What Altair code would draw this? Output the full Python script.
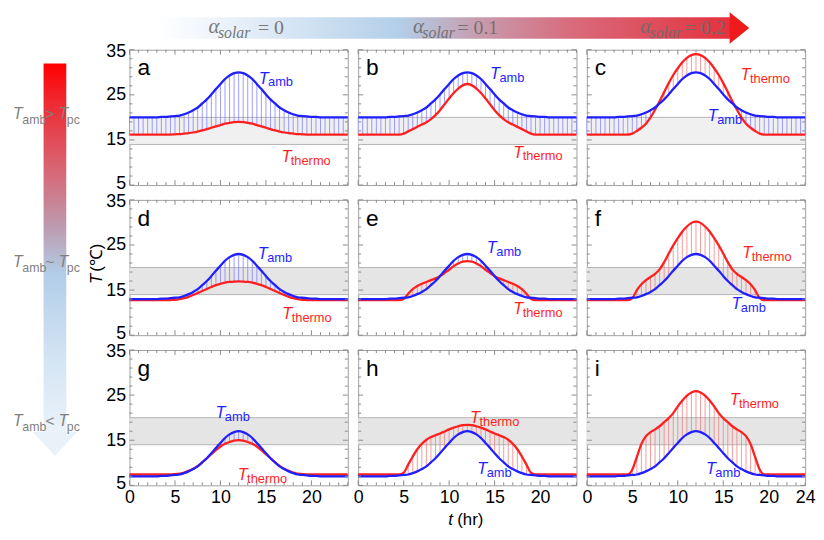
import altair as alt
import pandas as pd

# ---------------- data ----------------
t_hr = [0, 0.5, 1, 1.5, 2, 2.5, 3, 3.5, 4, 4.5, 5, 5.5, 6, 6.5, 7, 7.5, 8, 8.5, 9, 9.5,
        10, 10.5, 11, 11.5, 12, 12.5, 13, 13.5, 14, 14.5, 15, 15.5, 16, 16.5, 17, 17.5,
        18, 18.5, 19, 19.5, 20, 20.5, 21, 21.5, 22, 22.5, 23, 23.5, 24]

amb_row1 = [20.0, 20.0, 20.0, 20.0, 20.0, 20.0, 20.0, 20.1, 20.1, 20.2, 20.3, 20.4, 20.7, 21.1, 21.6, 22.2,
            23.1, 24.0, 25.1, 26.3, 27.4, 28.5, 29.3, 29.8, 30.0,
            29.8, 29.3, 28.5, 27.4, 26.3, 25.1, 24.0, 23.1, 22.2, 21.6, 21.1, 20.7, 20.4, 20.3, 20.2,
            20.1, 20.1, 20.0, 20.0, 20.0, 20.0, 20.0, 20.0, 20.0]
amb_row2 = [13.0, 13.0, 13.0, 13.0, 13.0, 13.0, 13.0, 13.1, 13.1, 13.2, 13.3, 13.4, 13.7, 14.1, 14.6, 15.2,
            16.1, 17.0, 18.1, 19.3, 20.4, 21.5, 22.3, 22.8, 23.0,
            22.8, 22.3, 21.5, 20.4, 19.3, 18.1, 17.0, 16.1, 15.2, 14.6, 14.1, 13.7, 13.4, 13.3, 13.2,
            13.1, 13.1, 13.0, 13.0, 13.0, 13.0, 13.0, 13.0, 13.0]
amb_row3 = [7.0, 7.0, 7.0, 7.0, 7.0, 7.0, 7.0, 7.1, 7.1, 7.2, 7.3, 7.4, 7.7, 8.1, 8.6, 9.2,
            10.1, 11.0, 12.1, 13.3, 14.4, 15.5, 16.3, 16.8, 17.0,
            16.8, 16.3, 15.5, 14.4, 13.3, 12.1, 11.0, 10.1, 9.2, 8.6, 8.1, 7.7, 7.4, 7.3, 7.2,
            7.1, 7.1, 7.0, 7.0, 7.0, 7.0, 7.0, 7.0, 7.0]

thermo_a = ([16.2] * 10 + [16.25, 16.3, 16.4, 16.5, 16.65, 16.85, 17.1, 17.4, 17.7, 18.0, 18.3, 18.6, 18.8, 18.95, 19.0,
             18.95, 18.8, 18.6, 18.3, 18.0, 17.7, 17.4, 17.1, 16.85, 16.65, 16.5, 16.4, 16.3, 16.25] + [16.2] * 10)
thermo_b = ([16.2] * 10 + [16.4, 16.9, 17.4, 17.9, 18.4, 18.9, 19.6, 20.5, 21.6, 22.9, 24.2, 25.4, 26.4, 27.1, 27.4,
             27.1, 26.4, 25.4, 24.2, 22.9, 21.6, 20.5, 19.6, 18.9, 18.4, 17.9, 17.4, 16.9, 16.4] + [16.2] * 10)
thermo_c = ([16.2] * 10 + [16.4, 17.0, 17.7, 18.6, 20.0, 21.7, 23.6, 25.6, 27.6, 29.4, 30.9, 32.2, 33.2, 33.8, 34.0,
             33.8, 33.2, 32.2, 30.9, 29.4, 27.6, 25.6, 23.6, 21.7, 20.0, 18.6, 17.7, 17.0, 16.4] + [16.2] * 10)
thermo_d = ([12.75] * 9 + [12.8, 12.85, 13.0, 13.2, 13.5, 13.9, 14.35, 14.8, 15.25, 15.7, 16.1, 16.4, 16.65, 16.8, 16.9, 16.95,
             16.9, 16.8, 16.65, 16.4, 16.1, 15.7, 15.25, 14.8, 14.35, 13.9, 13.5, 13.2, 13.0, 12.85, 12.8] + [12.75] * 9)
thermo_e = ([12.75] * 10 + [13.0, 14.2, 15.2, 15.9, 16.4, 16.8, 17.2, 17.6, 18.1, 18.8, 19.5, 20.3, 20.9, 21.3, 21.4,
             21.3, 20.9, 20.3, 19.5, 18.8, 18.1, 17.6, 17.2, 16.8, 16.4, 15.9, 15.2, 14.2, 13.0] + [12.75] * 10)
thermo_f = ([12.75] * 10 + [13.2, 15.0, 16.3, 17.2, 17.9, 18.6, 19.6, 21.2, 23.1, 24.9, 26.5, 28.0, 29.1, 29.9, 30.2,
             29.9, 29.1, 28.0, 26.5, 24.9, 23.1, 21.2, 19.6, 18.6, 17.9, 17.2, 16.3, 15.0, 13.2] + [12.75] * 10)
thermo_g = ([7.4] * 10 + [7.5, 7.6, 7.85, 8.2, 8.7, 9.3, 10.1, 11.0, 11.9, 12.8, 13.6, 14.2, 14.6, 14.9, 15.0,
             14.9, 14.6, 14.2, 13.6, 12.8, 11.9, 11.0, 10.1, 9.3, 8.7, 8.2, 7.85, 7.6, 7.5] + [7.4] * 10)
thermo_h = ([7.4] * 10 + [7.8, 9.6, 11.4, 13.0, 14.2, 15.1, 15.7, 16.1, 16.5, 16.95, 17.4, 17.8, 18.1, 18.35, 18.4,
             18.35, 18.1, 17.8, 17.4, 16.95, 16.5, 16.1, 15.7, 15.1, 14.2, 13.0, 11.4, 9.6, 7.8] + [7.4] * 10)
thermo_i = ([7.4] * 10 + [8.5, 11.3, 14.2, 15.9, 16.8, 17.4, 18.1, 19.0, 19.9, 21.0, 22.5, 23.8, 24.9, 25.6, 25.9,
             25.6, 24.9, 23.8, 22.5, 21.0, 19.9, 19.0, 18.1, 17.4, 16.8, 15.9, 14.2, 11.3, 8.5] + [7.4] * 10)

panel_letters = ["a", "b", "c", "d", "e", "f", "g", "h", "i"]
panel_amb = [amb_row1, amb_row1, amb_row1, amb_row2, amb_row2, amb_row2, amb_row3, amb_row3, amb_row3]
panel_thermo = [thermo_a, thermo_b, thermo_c, thermo_d, thermo_e, thermo_f, thermo_g, thermo_h, thermo_i]

# curve labels (t, T) of the "T" glyph
amb_lab_t = [14.2, 14.5, 13.3, 14.1, 14.15, 15.9, 9.45, 13.1, 13.1]
amb_lab_T = [28.6, 29.7, 20.3, 22.9, 24.3, 11.9, 21.1, 8.5, 8.5]
thermo_lab_t = [16.7, 17.05, 16.9, 16.8, 17.05, 17.1, 11.9, 12.3, 15.7]
thermo_lab_T = [11.1, 12.2, 29.4, 9.75, 10.85, 23.2, 7.3, 20.0, 23.8]

band_T = [14, 20]
band_fill = ["#f0f0f0", "#e5e5e5", "#e5e5e5"]

y_labels = [5, 15, 25, 35]
y_major = [5, 15, 25, 35]
y_minor = [7, 9, 11, 13, 17, 19, 21, 23, 27, 29, 31, 33]
x_labels = [0, 5, 10, 15, 20]
x_labels_last = [0, 5, 10, 15, 20, 24]
x_major = [0, 5, 10, 15, 20]
x_minor = [1, 2, 3, 4, 6, 7, 8, 9, 11, 12, 13, 14, 16, 17, 18, 19, 21, 22, 23, 24]

solar_values = ["= 0", "= 0.1", "= 0.2"]
regime_symbols = [">", "~", "<"]

# ---------------- style ----------------
W, H = 221, 137
BLUE = "#1f1fff"
RED = "#ff1f1f"
TICK = "#8a8a8a"
GREY_TXT = "#7f7f7f"
ALPHA_TXT = "#6c6c6c"
SANS = "Liberation Sans"
SERIF = "Liberation Serif"
one = pd.DataFrame({"k": [0]})


def vtext(txt, x, y, size, color="black", font=SANS, style="normal", align="left",
          baseline="alphabetic", angle=0, opacity=1.0):
    return alt.Chart(one).mark_text(
        text=txt, font=font, fontStyle=style, fontSize=size, color=color, align=align,
        baseline=baseline, angle=angle, opacity=opacity
    ).encode(x=alt.value(x), y=alt.value(y))


def decorations():
    lay = []
    # top horizontal arrow (alpha_solar)
    hgrad = {"gradient": "linear", "x1": 0, "y1": 0, "x2": 1, "y2": 0,
             "stops": [{"offset": 0, "color": "#ffffff"},
                       {"offset": 0.1, "color": "#eef4fb"},
                       {"offset": 0.42, "color": "#b3cfe9"},
                       {"offset": 0.56, "color": "#c79cae"},
                       {"offset": 0.73, "color": "#d9697a"},
                       {"offset": 1, "color": "#e4323e"}]}
    lay.append(alt.Chart(one).mark_rect(fill=hgrad, strokeWidth=0).encode(
        x=alt.value(30), x2=alt.value(608), y=alt.value(-33), y2=alt.value(-11)))
    lay.append(alt.Chart(one).mark_point(
        shape="M -0.62 -1 L 0.62 0 L -0.62 1 Z", size=1024, filled=True, fill="#ef1b1b",
        opacity=1, strokeWidth=0).encode(x=alt.value(617.5), y=alt.value(-22)))
    for ax, val in zip([80, 287, 517], solar_values):
        lay.append(vtext("α", ax, -16.5, 21, ALPHA_TXT, SERIF, "italic", opacity=0.9))
        lay.append(vtext("solar", ax + 9.5, -11.5, 16, ALPHA_TXT, SERIF, "italic", opacity=0.9))
        lay.append(vtext(val, ax + 50 if val == "= 0" else ax + 45, -16, 20, ALPHA_TXT, SERIF, opacity=0.9))
    # left vertical arrow (regimes)
    vgrad = {"gradient": "linear", "x1": 0, "y1": 0, "x2": 0, "y2": 1,
             "stops": [{"offset": 0, "color": "#ff0000"},
                       {"offset": 0.12, "color": "#ec2f38"},
                       {"offset": 0.3, "color": "#d66a78"},
                       {"offset": 0.45, "color": "#bc9db2"},
                       {"offset": 0.57, "color": "#b2cde8"},
                       {"offset": 0.8, "color": "#d3e4f3"},
                       {"offset": 1, "color": "#ebf2fa"}]}
    lay.append(alt.Chart(one).mark_rect(fill=vgrad, strokeWidth=0).encode(
        x=alt.value(-87), x2=alt.value(-64), y=alt.value(14), y2=alt.value(387)))
    lay.append(alt.Chart(one).mark_point(
        shape="M -1 -0.533 L 1 -0.533 L 0 0.533 Z", size=2025, filled=True, fill="#e9f1f9",
        opacity=1, strokeWidth=0).encode(x=alt.value(-75.5), y=alt.value(399)))
    for yb, sym in zip([70, 220, 380.7], regime_symbols):
        lay.append(vtext("T", -118, yb, 16, GREY_TXT, SANS, "italic"))
        lay.append(vtext("amb", -108.5, yb + 5.5, 12.5, GREY_TXT))
        lay.append(vtext(sym, -85, yb, 15.5, GREY_TXT))
        lay.append(vtext("T", -72, yb, 16, GREY_TXT, SANS, "italic"))
        lay.append(vtext("pc", -63.5, yb + 5.5, 12.5, GREY_TXT))
    return lay


def panel(k):
    row, col = divmod(k, 3)
    df = pd.DataFrame({"t": t_hr, "amb": panel_amb[k], "thermo": panel_thermo[k]})
    xs = alt.Scale(domain=[0, 24], nice=False, zero=False)
    ys = alt.Scale(domain=[5, 35], nice=False, zero=False)
    if row == 2:
        xa = alt.Axis(values=x_labels_last if col == 2 else x_labels, ticks=False, tickSize=0,
                      domain=False, grid=False, labelFont=SANS, labelFontSize=18, labelColor="#000",
                      labelFlush=False, labelOverlap=False, labelPadding=3, title=None)
    else:
        xa = None
    if col == 0:
        ya = alt.Axis(values=y_labels, ticks=False, tickSize=0, domain=False, grid=False,
                      labelFont=SANS, labelFontSize=18, labelColor="#000", labelFlush=False,
                      labelOverlap=False, labelPadding=4, title=None,
                      labelOffset={"condition": [{"test": "datum.value == 5", "value": -2},
                                                 {"test": "datum.value == 35", "value": 2}],
                                   "value": 0})
    else:
        ya = None

    def X(f):
        return alt.X(f, type="quantitative", scale=xs, axis=xa)

    def Y(f):
        return alt.Y(f, type="quantitative", scale=ys, axis=ya)

    layers = []
    band = pd.DataFrame({"lo": [band_T[0]], "hi": [band_T[1]]})
    layers.append(alt.Chart(band).mark_rect(color=band_fill[row]).encode(
        y=Y("lo"), y2=alt.Y2("hi"), x=alt.value(0), x2=alt.value(W)))
    layers.append(alt.Chart(pd.DataFrame({"v": band_T})).mark_rule(color="#b5b5b5", strokeWidth=1).encode(
        y=Y("v"), x=alt.value(0), x2=alt.value(W)))
    # vertical filling lines between the curves
    layers.append(alt.Chart(df).mark_rule(strokeWidth=1, opacity=0.75).encode(
        x=X("t"), y=Y("amb"), y2=alt.Y2("thermo"),
        color=alt.condition("datum.amb >= datum.thermo", alt.value("#7a7aff"), alt.value("#f07a7a"))))
    layers.append(alt.Chart(df).mark_line(color=RED, strokeWidth=2.3, interpolate="monotone").encode(
        x=X("t"), y=Y("thermo")))
    layers.append(alt.Chart(df).mark_line(color=BLUE, strokeWidth=2.3, interpolate="monotone").encode(
        x=X("t"), y=Y("amb")))
    # frame ticks (inward, all sides)
    for vals, ln in ((y_major, 5), (y_minor, 3)):
        d = pd.DataFrame({"v": vals})
        layers.append(alt.Chart(d).mark_rule(color=TICK, strokeWidth=1).encode(
            y=Y("v"), x=alt.value(0), x2=alt.value(ln)))
        layers.append(alt.Chart(d).mark_rule(color=TICK, strokeWidth=1).encode(
            y=Y("v"), x=alt.value(W), x2=alt.value(W - ln)))
    for vals, ln in ((x_major, 5), (x_minor, 3)):
        d = pd.DataFrame({"v": vals})
        layers.append(alt.Chart(d).mark_rule(color=TICK, strokeWidth=1).encode(
            x=X("v"), y=alt.value(H), y2=alt.value(H - ln)))
        layers.append(alt.Chart(d).mark_rule(color=TICK, strokeWidth=1).encode(
            x=X("v"), y=alt.value(0), y2=alt.value(ln)))
    # curve labels
    la = pd.DataFrame({"t": [amb_lab_t[k]], "T": [amb_lab_T[k]]})
    lt = pd.DataFrame({"t": [thermo_lab_t[k]], "T": [thermo_lab_T[k]]})
    for d, col_, sub in ((la, BLUE, "amb"), (lt, RED, "thermo")):
        layers.append(alt.Chart(d).mark_text(text="T", font=SANS, fontStyle="italic", fontSize=16.5,
                                             color=col_, align="left", baseline="middle").encode(
            x=X("t"), y=Y("T")))
        layers.append(alt.Chart(d).mark_text(text=sub, font=SANS, fontSize=13, color=col_,
                                             align="left", baseline="middle", dx=9.5, dy=4).encode(
            x=X("t"), y=Y("T")))
    # panel letter
    layers.append(vtext(panel_letters[k], 8, 26, 23))
    if k == 0:
        layers += decorations()
    if k == 3:
        layers.append(vtext("T", -33, 80, 17, style="italic", align="center", baseline="middle", angle=270))
        layers.append(vtext("(℃)", -33, 58.5, 17, align="center", baseline="middle", angle=270))
    if k == 7:
        layers.append(vtext("t", 93.5, 171.7, 17, style="italic", align="center", baseline="middle"))
        layers.append(vtext("(hr)", 113.5, 171.7, 17, align="center", baseline="middle"))
    return alt.layer(*layers).properties(width=W, height=H)


chart = alt.concat(
    *[panel(k) for k in range(9)], columns=3,
    spacing={"row": 15, "column": 10.5}, bounds="flush"
).properties(
    padding={"left": 4, "top": 0, "right": 0, "bottom": 0},
    background="white"
).configure_view(stroke="#a0a0a0", strokeWidth=1)

chart.save("out.html", embed_options={"renderer": "svg", "actions": False})
